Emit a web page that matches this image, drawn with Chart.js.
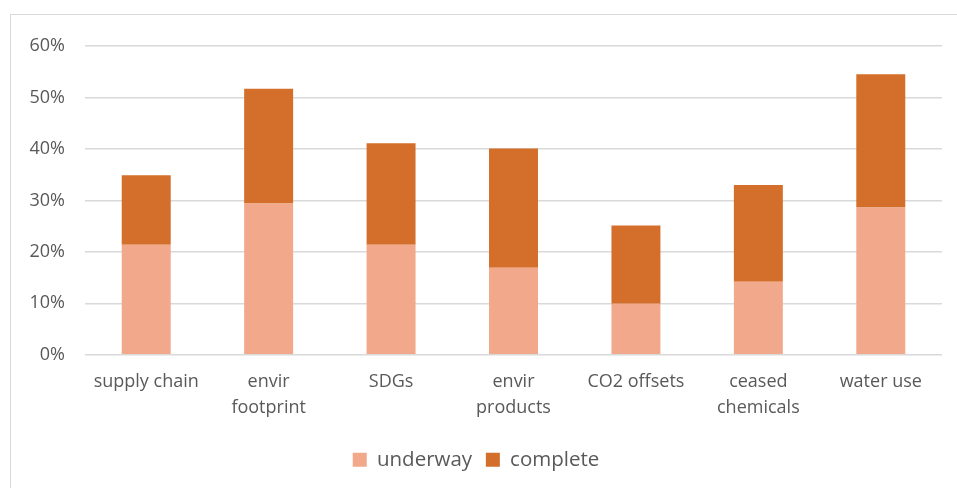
<!DOCTYPE html>
<html>
<head>
<meta charset="utf-8">
<script src="https://cdn.jsdelivr.net/npm/chart.js@4"></script>
<style>
  html, body { margin: 0; padding: 0; background: #fff; overflow: hidden; }
  #frame { position: absolute; left: 10px; top: 14px; width: 980px; height: 500px; border: 1px solid #d9d9d9; }
  #wrap { position: absolute; left: 0; top: 0; width: 957px; height: 488px; }
</style>
</head>
<body>
<div id="frame"></div>
<div id="wrap"><canvas id="myChart" width="957" height="488"></canvas></div>
<script>
// categories and values (percent)
var categorias = [
  "supply chain",
  ["envir", "footprint"],
  "SDGs",
  ["envir", "products"],
  "CO2 offsets",
  ["ceased", "chemicals"],
  "water use"
];
var underway = [21.4, 29.4, 21.4, 16.9, 9.9, 14.2, 28.6];
var complete = [13.5, 22.3, 19.7, 23.2, 15.2, 18.8, 25.9];
var yTicks = [0, 10, 20, 30, 40, 50, 60];

Chart.defaults.font.family = "'Open Sans', 'Liberation Sans', sans-serif";
Chart.defaults.color = "#595959";

var ctx = document.getElementById("myChart").getContext("2d");
var chart = new Chart(ctx, {
  type: "bar",
  data: {
    labels: categorias,
    datasets: [
      {
        label: "underway",
        backgroundColor: "#F2A88A",
        data: underway,
        categoryPercentage: 1,
        barPercentage: 0.4
      },
      {
        label: "complete",
        backgroundColor: "#D46E2B",
        data: complete,
        categoryPercentage: 1,
        barPercentage: 0.4
      }
    ]
  },
  options: {
    responsive: false,
    animation: false,
    layout: { padding: { left: 10, right: 15, top: 46, bottom: 8 } },
    plugins: {
      tooltip: { enabled: false },
      legend: {
        position: "bottom",
        labels: {
          boxWidth: 14,
          boxHeight: 14,
          padding: 13.75,
          font: { size: 20.5 }
        }
      }
    },
    scales: {
      x: {
        stacked: true,
        grid: { display: false },
        border: { display: false },
        ticks: { font: { size: 18, lineHeight: 1.45 }, padding: 6, maxRotation: 0 },
        afterFit: function (s) { s.height = 81; }
      },
      y: {
        stacked: true,
        min: 0,
        max: 60,
        afterBuildTicks: function (s) { s.ticks = yTicks.map(function (v) { return { value: v }; }); },
        grid: { color: "#d9d9d9", lineWidth: 1.5, drawTicks: false },
        border: { display: false },
        ticks: {
          font: { size: 18 },
          padding: 20,
          callback: function (v) { return v + "%"; }
        },
        afterFit: function (s) { s.width = 75; }
      }
    }
  }
});
</script>
</body>
</html>
